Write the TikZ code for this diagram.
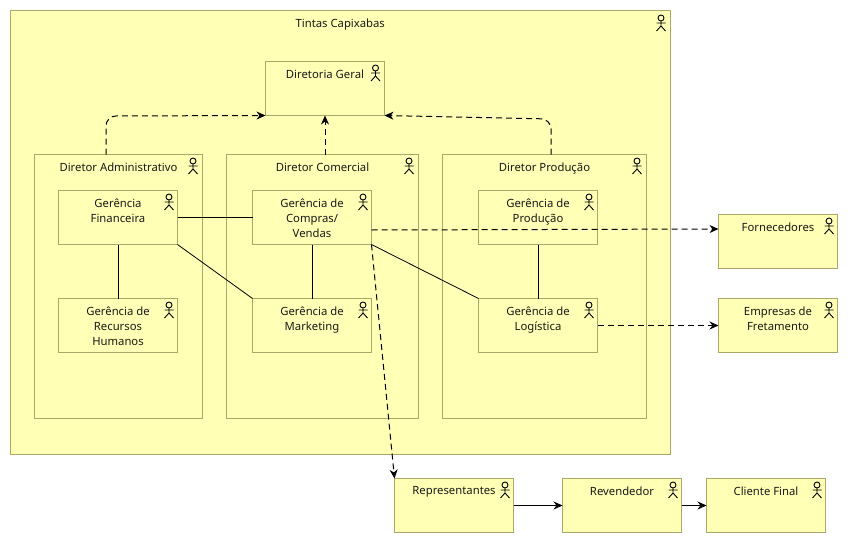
\documentclass[tikz,border=0pt]{standalone}
\usepackage{fontspec}
\setmainfont{Noto Sans}
\usepackage{tikz}
\usetikzlibrary{positioning,arrows.meta}
\definecolor{creme}{RGB}{255,255,181}
\definecolor{oliva}{RGB}{168,168,104}
\tikzset{%
    caixa/.style={draw=oliva,fill=creme,line width=1pt,inner sep=0pt,outer sep=0pt,anchor=north west},
    rotulo/.style={font=\fontsize{11.3pt}{15pt}\selectfont,align=center,inner sep=0pt,text=black!90},
    seta/.style={-{Stealth[length=9pt,width=8pt]}},
    tracejada/.style={seta,line width=1pt,dash pattern=on 6pt off 4pt},
    solida/.style={line width=0.8pt},
    ator/.pic={
        \draw[line width=0.9pt,fill=creme] (0,3) circle (3);
        \draw[line width=0.9pt] (0,6)--(0,11) (-4.5,8)--(4.5,8) (-4.5,16)--(0,11)--(4.5,16);
    }
}
\begin{document}
\begin{tikzpicture}[x=1pt,y=-1pt]
    \useasboundingbox (0,0) rectangle (848,543);
%-----------------------------------------------
    \node[caixa,minimum width=659.5,minimum height=444] (tintas) at (10.5,10.5) {};
    \node[rotulo,below=8pt of tintas.north] (tintas-t) {Tintas Capixabas};
    \pic at (661,15) {ator};
%-----------------------------------------------
    \node[caixa,minimum width=119,minimum height=54] (geral) at (265.5,61.5) {};
    \node[rotulo,below=8pt of geral.north] (geral-t) {Diretoria Geral};
    \pic at (375.5,65) {ator};
%-----------------------------------------------
    \node[caixa,minimum width=168,minimum height=264] (adm) at (34.5,154.5) {};
    \node[rotulo,below=8pt of adm.north] (adm-t) {Diretor Administrativo};
    \pic at (193,158) {ator};
    \node[caixa,minimum width=192,minimum height=264] (com) at (226.5,154.5) {};
    \node[rotulo,below=8pt of com.north] (com-t) {Diretor Comercial};
    \pic at (409,158) {ator};
    \node[caixa,minimum width=204,minimum height=264] (prod) at (442.5,154.5) {};
    \node[rotulo,below=8pt of prod.north] (prod-t) {Diretor Produção};
    \pic at (637,158) {ator};
%-----------------------------------------------
    \node[caixa,minimum width=119,minimum height=54] (fin) at (58.5,190.5) {};
    \node[rotulo,below=8pt of fin.north] (fin-t) {Gerência\\Financeira};
    \pic at (169,194) {ator};
    \node[caixa,minimum width=119,minimum height=54] (rh) at (58.5,298.5) {};
    \node[rotulo,below=8pt of rh.north] (rh-t) {Gerência de\\Recursos\\Humanos};
    \pic at (169,302) {ator};
    \node[caixa,minimum width=119,minimum height=54] (compras) at (252.5,190.5) {};
    \node[rotulo,below=8pt of compras.north] (compras-t) {Gerência de\\Compras/\\Vendas};
    \pic at (363,194) {ator};
    \node[caixa,minimum width=119,minimum height=54] (mkt) at (252.5,298.5) {};
    \node[rotulo,below=8pt of mkt.north] (mkt-t) {Gerência de\\Marketing};
    \pic at (363,302) {ator};
    \node[caixa,minimum width=119,minimum height=54] (gprod) at (478.5,190.5) {};
    \node[rotulo,below=8pt of gprod.north] (gprod-t) {Gerência de\\Produção};
    \pic at (589,194) {ator};
    \node[caixa,minimum width=119,minimum height=54] (log) at (478.5,298.5) {};
    \node[rotulo,below=8pt of log.north] (log-t) {Gerência de\\Logística};
    \pic at (589,302) {ator};
%-----------------------------------------------
    \node[caixa,minimum width=119,minimum height=54] (forn) at (718.5,214.5) {};
    \node[rotulo,below=8pt of forn.north] (forn-t) {Fornecedores};
    \pic at (829,218) {ator};
    \node[caixa,minimum width=119,minimum height=54] (emp) at (718.5,298.5) {};
    \node[rotulo,below=8pt of emp.north] (emp-t) {Empresas de\\Fretamento};
    \pic at (829,302) {ator};
    \node[caixa,minimum width=119,minimum height=54] (rep) at (394.5,478.5) {};
    \node[rotulo,below=8pt of rep.north] (rep-t) {Representantes};
    \pic at (505,482) {ator};
    \node[caixa,minimum width=119,minimum height=54] (rev) at (562.5,478.5) {};
    \node[rotulo,below=8pt of rev.north] (rev-t) {Revendedor};
    \pic at (673,482) {ator};
    \node[caixa,minimum width=119,minimum height=54] (cli) at (706.5,478.5) {};
    \node[rotulo,below=8pt of cli.north] (cli-t) {Cliente Final};
    \pic at (817,482) {ator};
%-----------------------------------------------
    \draw[solida] (fin.east |- 0,217)--(compras.west |- 0,217);
    \draw[solida] (fin.south)--(rh.north);
    \draw[solida] (fin.south east)--(mkt.north west);
    \draw[solida] (compras.south)--(mkt.north);
    \draw[solida] (compras.south east)--(log.north west);
    \draw[solida] (gprod.south)--(log.north);
%-----------------------------------------------
    \draw[tracejada,rounded corners=10pt] (adm.north -| 106,0)--(106,116)--(geral.south west);
    \draw[tracejada] (geral.south |- com.north)--(geral.south);
    \draw[tracejada,rounded corners=10pt] (prod.north -| 551,0)--(551,119)--(geral.south east);
    \draw[tracejada] (compras.east |- 0,230)--(forn.west |- 0,229);
    \draw[tracejada] (log.east)--(emp.west);
    \draw[tracejada] (compras.south east)--(rep.north west);
%-----------------------------------------------
    \draw[seta,solida] (rep.east)--(rev.west);
    \draw[seta,solida] (rev.east)--(cli.west);
\end{tikzpicture}
\end{document}
